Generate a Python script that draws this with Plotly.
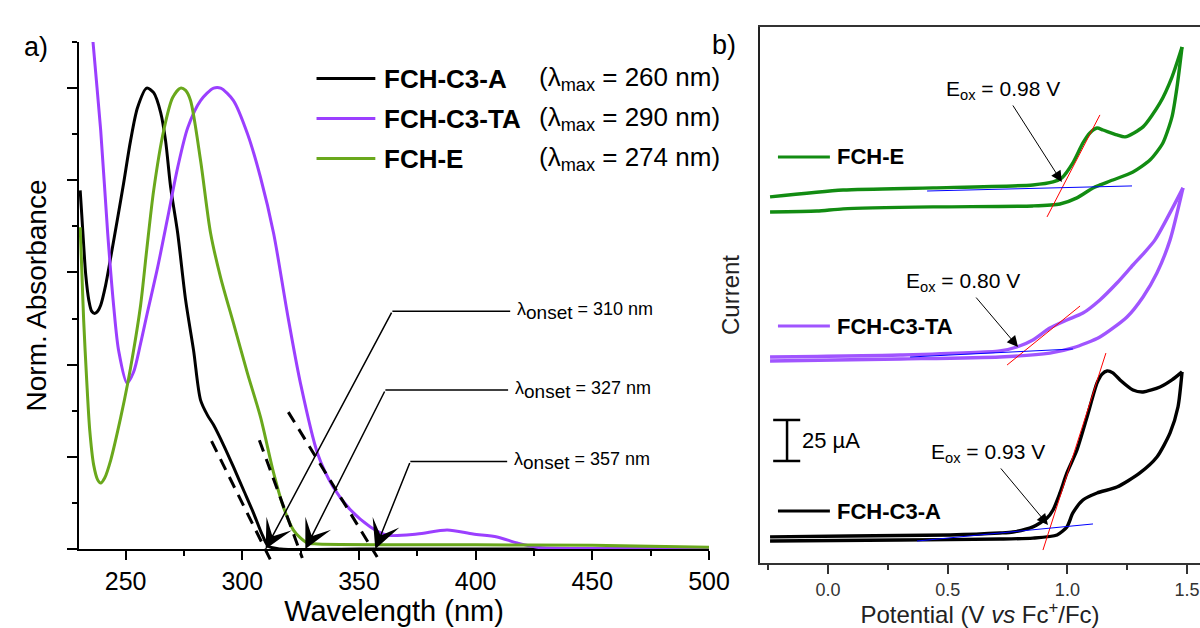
import plotly.graph_objects as go

FONT = "Liberation Sans, Arial, sans-serif"

# ---------------- data: UV-vis (panel a) ----------------
a_wl = [230.5, 231.2, 232.0, 232.9, 234.2, 235.4, 236.7, 238.0, 239.3, 241.4, 243.6, 246.6,
        249.1, 252.1, 255.1, 259.0, 262.0, 265.0, 267.1, 269.3, 272.3, 275.7, 279.1, 282.1,
        285.1, 287.7, 292.0, 296.2, 300.5, 304.8, 308.6, 311.2, 316.3, 350.0, 400.0, 450.0, 500.0]
a_abs = [0.778, 0.724, 0.659, 0.594, 0.540, 0.516, 0.511, 0.516, 0.529, 0.572, 0.633, 0.719,
         0.793, 0.886, 0.958, 1.0, 0.99, 0.947, 0.886, 0.784, 0.685, 0.54, 0.431, 0.323,
         0.29, 0.269, 0.225, 0.178, 0.128, 0.078, 0.03, 0.006, 0.0, 0.0, 0.0, 0.0, 0.0]

ta_wl = [233.0, 236.0, 239.3, 242.3, 244.9, 247.0, 250.6, 253.4, 256.4, 259.4, 263.7, 268.0,
         272.3, 276.6, 282.1, 287.7, 290.7, 296.2, 302.2, 307.8, 313.4, 319.3, 324.9, 332.2,
         339.0, 346.3, 354.9, 362.1, 374.9, 387.8, 398.9, 409.2, 417.8, 426.3, 450.0, 500.0]
ta_abs = [1.29, 1.10, 0.908, 0.685, 0.525, 0.43, 0.36, 0.384, 0.446, 0.515, 0.611, 0.719,
          0.828, 0.914, 0.973, 1.0, 1.0, 0.973, 0.901, 0.806, 0.685, 0.511, 0.36, 0.208,
          0.134, 0.085, 0.048, 0.030, 0.0325, 0.041, 0.0325, 0.026, 0.013, 0.004, 0.001, 0.0]

e_wl = [230.5, 231.2, 232.0, 233.3, 234.6, 236.3, 238.0, 239.3, 241.0, 243.6, 247.9, 250.9,
        253.4, 256.4, 259.0, 262.0, 266.3, 270.1, 273.5, 275.7, 277.8, 282.1, 286.4, 290.7,
        296.2, 302.2, 307.8, 313.4, 317.6, 321.9, 324.9, 327.9, 332.2, 400.0, 450.0, 500.0]
e_abs = [0.698, 0.605, 0.496, 0.366, 0.258, 0.182, 0.150, 0.143, 0.154, 0.193, 0.286, 0.36,
         0.431, 0.529, 0.648, 0.778, 0.908, 0.979, 1.0, 0.995, 0.973, 0.843, 0.685, 0.589,
         0.49, 0.381, 0.286, 0.165, 0.091, 0.041, 0.024, 0.013, 0.011, 0.009, 0.008, 0.004]

uv_names = ["FCH-C3-A", "FCH-C3-TA", "FCH-E"]
uv_lmax = [260, 290, 274]
onset_nm = [310, 327, 357]
# tangent (dashed) lines used to find the onsets: [x0, x1], [y0, y1]
tan_x = [[286.8, 312.1], [307.3, 325.7], [319.7, 357.8]]
tan_y = [[0.234, -0.024], [0.236, -0.0195], [0.297, -0.0173]]
# label-leader geometry (tail of the arrow, end of the horizontal rule)
lead_tail_x = [364.3, 361.3, 372.0]
lead_y = [0.516, 0.345, 0.19]
lead_end_x = [414.8, 413.9, 413.5]

# ---------------- data: cyclic voltammetry (panel b) ----------------
cv_a_V = [-0.242, 0.092, 0.510, 0.718, 0.773, 0.856, 0.915, 0.940, 0.969, 0.998, 1.040, 1.082,
          1.124, 1.145, 1.166, 1.190, 1.220, 1.274, 1.316, 1.387, 1.437, 1.479,
          1.462, 1.429, 1.374, 1.303, 1.207, 1.124, 1.065, 1.023, 0.998, 0.957, 0.856, 0.718,
          0.301, -0.242]
cv_a_I = [15.9, 16.5, 17.1, 18.3, 18.9, 22.0, 27.4, 32.3, 42.7, 54.9, 68.9, 89.0,
          109.8, 115.2, 117.1, 115.9, 111.6, 105.5, 104.3, 107.3, 111.6, 116.5,
          95.1, 79.3, 64.6, 54.9, 46.3, 42.7, 38.4, 30.5, 22.0, 17.1, 15.2, 14.6,
          14.0, 13.4]

cv_ta_V = [-0.242, 0.301, 0.718, 0.789, 0.856, 0.927, 0.998, 1.065, 1.136, 1.207, 1.274, 1.320,
           1.366, 1.483, 1.429, 1.374, 1.316, 1.249, 1.136, 1.023, 0.927, 0.718, 0.301,
           -0.242]
cv_ta_I = [125.6, 126.8, 129.3, 131.7, 136.0, 143.3, 148.2, 152.4, 160.4, 170.7, 181.7, 189.0,
           197.0, 228.7, 197.0, 176.8, 162.2, 150.0, 137.8, 131.1, 128.0, 125.6, 124.4,
           123.2]

cv_e_V = [-0.242, 0.063, 0.439, 0.856, 0.940, 0.977, 1.023, 1.065, 1.094, 1.124, 1.149, 1.207,
          1.241, 1.316, 1.387, 1.437, 1.479, 1.458, 1.437, 1.399, 1.345, 1.274, 1.190, 1.136,
          1.107, 1.040, 0.969, 0.856, 0.439, 0.063, -0.046, -0.242]
cv_e_I = [223.2, 227.4, 228.7, 230.5, 232.3, 234.8, 243.9, 256.1, 262.2, 265.2, 264.0, 261.0,
          259.8, 265.9, 280.5, 296.3, 314.6, 290.2, 272.0, 256.1, 245.7, 238.4, 233.5, 230.5,
          228.7, 222.6, 218.9, 217.7, 217.1, 215.9, 214.6, 214.0]

cv_names = ["FCH-C3-A", "FCH-C3-TA", "FCH-E"]
cv_eox = ["0.93", "0.80", "0.98"]
# onset construction lines
red_V = [[0.898, 1.161], [0.748, 1.053], [0.915, 1.136]]
red_I = [[7.9, 128.0], [120.7, 156.7], [211.0, 273.2]]
blue_V = [[0.372, 1.107], [0.343, 1.023], [0.414, 1.270]]
blue_I = [[13.4, 23.8], [125.6, 130.5], [226.8, 229.9]]
arr_head_V = [0.919, 0.794, 0.977]
arr_head_I = [23.2, 131.7, 232.3]
lbl_V = [0.668, 0.564, 0.731]
lbl_I = [67.1, 171.3, 288.4]
leg_I = [31.7, 144.5, 247.6]
leg_V = [-0.209, 0.008]
scale_V = -0.171
scale_I = [62.2, 87.2]   # 25 uA

UV_COLORS = ["#000000", "#9B3FFF", "#6AA81C"]
CV_COLORS = ["#000000", "#A055FF", "#128C12"]

Y1_MAX = 1.1
CV_X = [-0.284, 1.554]
CV_Y = [0.0, 326.8]

fig = go.Figure()

for wl, ab, c, n in zip([a_wl, ta_wl, e_wl], [a_abs, ta_abs, e_abs], UV_COLORS, uv_names):
    fig.add_trace(go.Scatter(x=wl, y=ab, mode="lines", name=n, showlegend=False,
                             line=dict(color=c, width=3, shape="spline", smoothing=0.8),
                             xaxis="x", yaxis="y"))

for V, I, c, n in zip([cv_a_V, cv_ta_V, cv_e_V], [cv_a_I, cv_ta_I, cv_e_I], CV_COLORS, cv_names):
    k = V.index(max(V))  # switching potential: keep the vertex sharp
    for part_V, part_I, sweep in ((V[:k + 1], I[:k + 1], "forward"), (V[k:], I[k:], "reverse")):
        fig.add_trace(go.Scatter(x=part_V, y=part_I, mode="lines", name=n + " " + sweep,
                                 legendgroup=n, showlegend=False,
                                 line=dict(color=c, width=3.4, shape="spline", smoothing=0.65),
                                 xaxis="x2", yaxis="y2"))

shapes = []
annotations = []

# ----- panel a decorations -----
for i in range(3):
    # dashed tangent lines (may extend below the axis)
    shapes.append(dict(type="line", xref="x", yref="y domain",
                       x0=tan_x[i][0], x1=tan_x[i][1],
                       y0=tan_y[i][0] / Y1_MAX, y1=tan_y[i][1] / Y1_MAX,
                       line=dict(color="black", width=3, dash="12px,8px")))
    # horizontal leader
    shapes.append(dict(type="line", xref="x", yref="y",
                       x0=lead_tail_x[i], x1=lead_end_x[i], y0=lead_y[i], y1=lead_y[i],
                       line=dict(color="black", width=1.5)))
    annotations.append(dict(xref="x", yref="y", axref="x", ayref="y",
                            x=onset_nm[i], y=0.0, ax=lead_tail_x[i], ay=lead_y[i],
                            text="", showarrow=True, arrowhead=3, arrowsize=3.2,
                            arrowwidth=1.5, arrowcolor="black"))
    annotations.append(dict(xref="x", yref="y", x=lead_end_x[i] + 2.2, y=lead_y[i],
                            xanchor="left", yanchor="middle", showarrow=False,
                            text="λ<sub><span style='font-size:19px'>onset</span></sub> = %d nm"
                                 % onset_nm[i],
                            font=dict(family=FONT, size=18, color="black")))

# legend of panel a
leg_rows = [1.0206, 0.934, 0.847]
for i in range(3):
    shapes.append(dict(type="line", xref="x", yref="y", x0=331.8, x1=357.0,
                       y0=leg_rows[i], y1=leg_rows[i],
                       line=dict(color=UV_COLORS[i], width=3)))
    annotations.append(dict(xref="x", yref="y", x=359.8, y=leg_rows[i], xanchor="left",
                            yanchor="middle", showarrow=False, text="<b>%s</b>" % uv_names[i],
                            font=dict(family=FONT, size=26, color="black")))
    annotations.append(dict(xref="x", yref="y", x=426.4, y=leg_rows[i], xanchor="left",
                            yanchor="middle", showarrow=False,
                            text="(λ<sub>max</sub> = %d nm)" % uv_lmax[i],
                            font=dict(family=FONT, size=26, color="black")))

# ----- panel b decorations -----
for i in range(3):
    shapes.append(dict(type="line", xref="x2", yref="y2", x0=red_V[i][0], x1=red_V[i][1],
                       y0=red_I[i][0], y1=red_I[i][1], line=dict(color="#FF0000", width=1)))
    shapes.append(dict(type="line", xref="x2", yref="y2", x0=blue_V[i][0], x1=blue_V[i][1],
                       y0=blue_I[i][0], y1=blue_I[i][1], line=dict(color="#0000FF", width=1)))
    # label with its arrow pointing at the onset
    annotations.append(dict(xref="x2", yref="y2", axref="x2", ayref="y2",
                            x=arr_head_V[i], y=arr_head_I[i], ax=lbl_V[i], ay=lbl_I[i],
                            text="E<sub>ox</sub> = %s V" % cv_eox[i],
                            showarrow=True, arrowhead=2, arrowsize=2.2,
                            arrowwidth=1, arrowcolor="black", standoff=0, borderpad=2,
                            font=dict(family=FONT, size=21, color="black")))
    shapes.append(dict(type="line", xref="x2", yref="y2", x0=leg_V[0], x1=leg_V[1],
                       y0=leg_I[i], y1=leg_I[i], line=dict(color=CV_COLORS[i], width=3)))
    annotations.append(dict(xref="x2", yref="y2", x=leg_V[1] + 0.022, y=leg_I[i],
                            xanchor="left", yanchor="middle", showarrow=False,
                            text="<b>%s</b>" % cv_names[i],
                            font=dict(family=FONT, size=22, color="black")))

# 25 uA scale bar
shapes.append(dict(type="line", xref="x2", yref="y2", x0=scale_V, x1=scale_V,
                   y0=scale_I[0], y1=scale_I[1], line=dict(color="black", width=2.5)))
for yy in scale_I:
    shapes.append(dict(type="line", xref="x2", yref="y2", x0=scale_V - 0.058, x1=scale_V + 0.055,
                       y0=yy, y1=yy, line=dict(color="black", width=2.5)))
annotations.append(dict(xref="x2", yref="y2", x=scale_V + 0.055, y=(scale_I[0] + scale_I[1]) / 2,
                        xanchor="left", yanchor="middle", showarrow=False, text="25 µA",
                        font=dict(family=FONT, size=22, color="black")))

# panel labels
annotations.append(dict(xref="paper", yref="paper", x=0.0185, y=0.952, text="a)",
                        showarrow=False, font=dict(family=FONT, size=27, color="black")))
annotations.append(dict(xref="paper", yref="paper", x=0.6035, y=0.955, text="b)",
                        showarrow=False, font=dict(family=FONT, size=27, color="black")))

fig.update_layout(
    width=1200, height=628,
    margin=dict(l=0, r=0, t=0, b=0),
    paper_bgcolor="white", plot_bgcolor="white",
    font=dict(family=FONT, color="black"),
    shapes=shapes, annotations=annotations,
    xaxis=dict(domain=[79 / 1200, 709 / 1200], range=[230, 500], anchor="y",
               showline=True, linecolor="black", linewidth=2, mirror=False,
               ticks="outside", ticklen=9, tickwidth=2, tickcolor="black",
               tick0=250, dtick=50, showgrid=False, zeroline=False,
               minor=dict(ticks="outside", ticklen=5, tickwidth=2, tickcolor="black",
                          tick0=225, dtick=25, showgrid=False),
               tickfont=dict(family=FONT, size=25, color="black"),
               title=dict(text="Wavelength (nm)", font=dict(family=FONT, size=29, color="black"),
                          standoff=4),
               automargin=False),
    yaxis=dict(domain=[79 / 628, 586 / 628], range=[0, Y1_MAX], anchor="x",
               showline=True, linecolor="black", linewidth=2,
               ticks="outside", ticklen=10, tickwidth=2, tickcolor="black",
               tick0=0, dtick=0.2, showticklabels=False, showgrid=False, zeroline=False,
               minor=dict(ticks="outside", ticklen=5, tickwidth=2, tickcolor="black",
                          tick0=0, dtick=0.1, showgrid=False),
               title=dict(text="Norm. Absorbance", font=dict(family=FONT, size=28, color="black"),
                          standoff=12),
               automargin=False),
    xaxis2=dict(domain=[760 / 1200, 1.0], range=CV_X, anchor="y2",
                showline=True, linecolor="#333333", linewidth=2, mirror=True,
                ticks="outside", ticklen=9, tickwidth=1.5, tickcolor="#333333",
                tick0=0, dtick=0.5, tickformat=".1f", showgrid=False, zeroline=False,
                minor=dict(ticks="outside", ticklen=5, tickwidth=1.5, tickcolor="#333333",
                           tick0=0, dtick=0.25, showgrid=False),
                tickfont=dict(family=FONT, size=18, color="#333333"),
                title=dict(text="Potential (V <i>vs</i> Fc<sup>+</sup>/Fc)",
                           font=dict(family=FONT, size=24, color="#222222"), standoff=2),
                automargin=False),
    yaxis2=dict(domain=[65 / 628, 601 / 628], range=CV_Y, anchor="x2",
                showline=True, linecolor="#222222", linewidth=2, mirror=False,
                ticks="", showticklabels=False, showgrid=False, zeroline=False,
                title=dict(text="Current", font=dict(family=FONT, size=24, color="#222222"),
                           standoff=12),
                automargin=False),
)

fig.write_html("out.html")
